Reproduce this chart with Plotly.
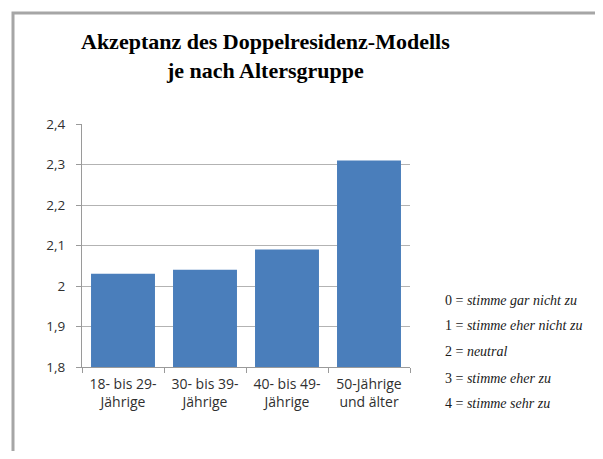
import plotly.graph_objects as go

categories = ["18- bis 29-<br>Jährige", "30- bis 39-<br>Jährige", "40- bis 49-<br>Jährige", "50-Jährige<br>und älter"]
values = [2.03, 2.04, 2.09, 2.31]
y_ticks = [1.8, 1.9, 2.0, 2.1, 2.2, 2.3, 2.4]
legend_codes = ["0", "1", "2", "3", "4"]
legend_labels = ["stimme gar nicht zu", "stimme eher nicht zu", "neutral", "stimme eher zu", "stimme sehr zu"]
title_text = "Akzeptanz des Doppelresidenz-Modells<br>je nach Altersgruppe"

# page has an 8px body margin; work in page pixel coordinates
OFF = 8
W, H = 603 - 2 * OFF, 459 - 2 * OFF
PL, PR, PT, PB = 82, 410, 124, 367  # plot area in page pixels
L, T = PL - OFF, PT - OFF
R = W - (PR - OFF)
B = H - (PB - OFF)
PW, PH = PR - PL, PB - PT

def px(x):
    return (x - PL) / PW

def py(y):
    return (PB - y) / PH

fig = go.Figure()
fig.add_trace(go.Bar(
    x=categories, y=values,
    marker=dict(color="#4a7ebb", line=dict(width=0)),
    width=0.78,
))

fig.update_layout(
    width=W, height=H,
    margin=dict(l=L, r=R, t=T, b=B),
    paper_bgcolor="white", plot_bgcolor="white",
    separators=",.",
    showlegend=False,
    font=dict(family="Open Sans, DejaVu Sans, sans-serif", color="#404040"),
)
fig.update_yaxes(
    range=[1.8, 2.4], tickvals=y_ticks,
    showgrid=True, gridcolor="#b3b3b3", gridwidth=1,
    showline=True, linecolor="#9a9a9a", linewidth=1,
    ticks="outside", ticklen=5, tickcolor="#9a9a9a",
    ticklabelstandoff=8,
    tickfont=dict(size=13.5, color="#303030"),
    zeroline=False,
)
fig.update_xaxes(
    showline=True, linecolor="#9a9a9a", linewidth=1,
    ticks="outside", ticklen=5, tickcolor="#9a9a9a", tickson="boundaries",
    ticklabelstandoff=4,
    tickfont=dict(size=14, color="#303030"),
)

# Title
fig.add_annotation(
    x=px(265), y=py(56), xref="paper", yref="paper",
    text="<b>" + title_text + "</b>", showarrow=False,
    font=dict(family="Liberation Serif, Times New Roman, serif", size=22, color="black"),
    xanchor="center", yanchor="middle",
)

# Scale explanation
legend_y = [300, 325, 351, 378, 403]
for c, lab, yy in zip(legend_codes, legend_labels, legend_y):
    fig.add_annotation(
        x=px(443), y=py(yy), xref="paper", yref="paper",
        text=c + " = <i>" + lab + "</i>", showarrow=False,
        font=dict(family="Liberation Serif, DejaVu Serif, serif", size=14, color="#1a1a1a"),
        xanchor="left", yanchor="middle",
    )

# Outer frame
fig.add_shape(
    type="rect", xref="paper", yref="paper",
    x0=px(13), x1=px(640), y0=py(490), y1=py(13),
    line=dict(color="#a6a6a6", width=3), fillcolor="rgba(0,0,0,0)", layer="below",
)

fig.write_html("out.html")
